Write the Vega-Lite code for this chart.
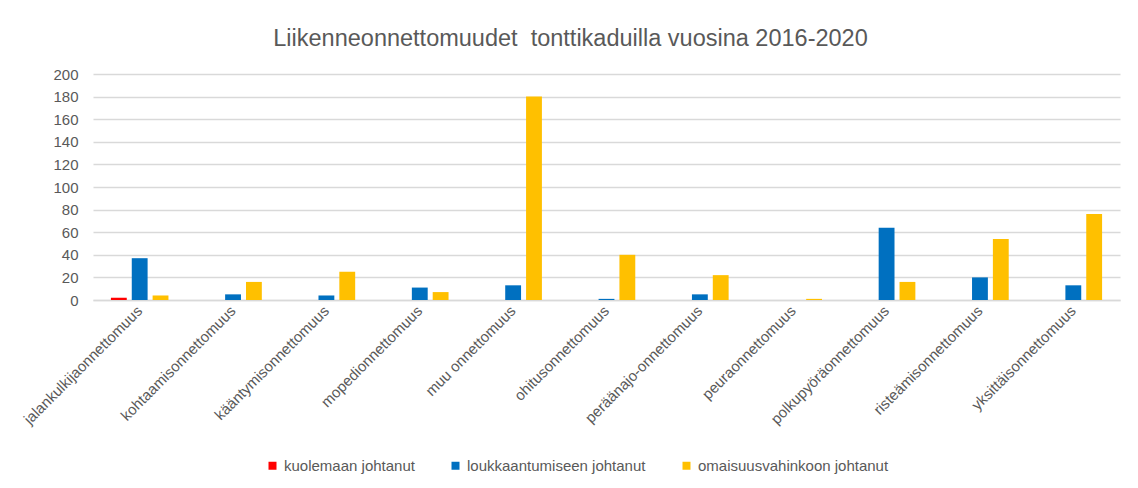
{
  "$schema": "https://vega.github.io/schema/vega-lite/v6.json",
  "width": 1027,
  "height": 226,
  "autosize": {"type": "none"},
  "padding": {"left": 93, "top": 74, "right": 18, "bottom": 188},
  "background": "white",
  "title": {
    "text": "Liikenneonnettomuudet\u00a0 tonttikaduilla vuosina 2016-2020",
    "font": "Liberation Sans",
    "fontSize": 23.5,
    "fontWeight": "normal",
    "color": "#595959",
    "anchor": "middle",
    "dx": -36,
    "offset": 17
  },
  "data": {
    "values": [
      {"luokka": "jalankulkijaonnettomuus", "tyyppi": "kuolemaan johtanut", "arvo": 2},
      {"luokka": "jalankulkijaonnettomuus", "tyyppi": "loukkaantumiseen johtanut", "arvo": 37},
      {"luokka": "jalankulkijaonnettomuus", "tyyppi": "omaisuusvahinkoon johtanut", "arvo": 4},
      {"luokka": "kohtaamisonnettomuus", "tyyppi": "kuolemaan johtanut", "arvo": 0},
      {"luokka": "kohtaamisonnettomuus", "tyyppi": "loukkaantumiseen johtanut", "arvo": 5},
      {"luokka": "kohtaamisonnettomuus", "tyyppi": "omaisuusvahinkoon johtanut", "arvo": 16},
      {"luokka": "kääntymisonnettomuus", "tyyppi": "kuolemaan johtanut", "arvo": 0},
      {"luokka": "kääntymisonnettomuus", "tyyppi": "loukkaantumiseen johtanut", "arvo": 4},
      {"luokka": "kääntymisonnettomuus", "tyyppi": "omaisuusvahinkoon johtanut", "arvo": 25},
      {"luokka": "mopedionnettomuus", "tyyppi": "kuolemaan johtanut", "arvo": 0},
      {"luokka": "mopedionnettomuus", "tyyppi": "loukkaantumiseen johtanut", "arvo": 11},
      {"luokka": "mopedionnettomuus", "tyyppi": "omaisuusvahinkoon johtanut", "arvo": 7},
      {"luokka": "muu onnettomuus", "tyyppi": "kuolemaan johtanut", "arvo": 0},
      {"luokka": "muu onnettomuus", "tyyppi": "loukkaantumiseen johtanut", "arvo": 13},
      {"luokka": "muu onnettomuus", "tyyppi": "omaisuusvahinkoon johtanut", "arvo": 180},
      {"luokka": "ohitusonnettomuus", "tyyppi": "kuolemaan johtanut", "arvo": 0},
      {"luokka": "ohitusonnettomuus", "tyyppi": "loukkaantumiseen johtanut", "arvo": 1},
      {"luokka": "ohitusonnettomuus", "tyyppi": "omaisuusvahinkoon johtanut", "arvo": 40},
      {"luokka": "peräänajo-onnettomuus", "tyyppi": "kuolemaan johtanut", "arvo": 0},
      {"luokka": "peräänajo-onnettomuus", "tyyppi": "loukkaantumiseen johtanut", "arvo": 5},
      {"luokka": "peräänajo-onnettomuus", "tyyppi": "omaisuusvahinkoon johtanut", "arvo": 22},
      {"luokka": "peuraonnettomuus", "tyyppi": "kuolemaan johtanut", "arvo": 0},
      {"luokka": "peuraonnettomuus", "tyyppi": "loukkaantumiseen johtanut", "arvo": 0},
      {"luokka": "peuraonnettomuus", "tyyppi": "omaisuusvahinkoon johtanut", "arvo": 1},
      {"luokka": "polkupyöräonnettomuus", "tyyppi": "kuolemaan johtanut", "arvo": 0},
      {"luokka": "polkupyöräonnettomuus", "tyyppi": "loukkaantumiseen johtanut", "arvo": 64},
      {"luokka": "polkupyöräonnettomuus", "tyyppi": "omaisuusvahinkoon johtanut", "arvo": 16},
      {"luokka": "risteämisonnettomuus", "tyyppi": "kuolemaan johtanut", "arvo": 0},
      {"luokka": "risteämisonnettomuus", "tyyppi": "loukkaantumiseen johtanut", "arvo": 20},
      {"luokka": "risteämisonnettomuus", "tyyppi": "omaisuusvahinkoon johtanut", "arvo": 54},
      {"luokka": "yksittäisonnettomuus", "tyyppi": "kuolemaan johtanut", "arvo": 0},
      {"luokka": "yksittäisonnettomuus", "tyyppi": "loukkaantumiseen johtanut", "arvo": 13},
      {"luokka": "yksittäisonnettomuus", "tyyppi": "omaisuusvahinkoon johtanut", "arvo": 76}
    ]
  },
  "mark": {"type": "bar"},
  "encoding": {
    "x": {
      "field": "luokka",
      "type": "nominal",
      "sort": null,
      "title": null,
      "scale": {"paddingInner": 0.33, "paddingOuter": 0.165},
      "axis": {
        "labelAngle": -45,
        "labelAlign": "right",
        "labelBaseline": "middle",
        "labelFont": "Liberation Sans",
        "labelFontSize": 15,
        "labelColor": "#595959",
        "labelPadding": 8,
        "labelLimit": 300,
        "ticks": false,
        "domainColor": "#d9d9d9",
        "domainWidth": 1.5
      }
    },
    "xOffset": {
      "field": "tyyppi",
      "type": "nominal",
      "sort": null,
      "scale": {"paddingInner": 0.24, "paddingOuter": 0.12}
    },
    "y": {
      "field": "arvo",
      "type": "quantitative",
      "title": null,
      "scale": {"domain": [0, 200]},
      "axis": {
        "values": [0, 20, 40, 60, 80, 100, 120, 140, 160, 180, 200],
        "labelFont": "Liberation Sans",
        "labelFontSize": 15,
        "labelColor": "#595959",
        "labelPadding": 15,
        "ticks": false,
        "domain": false,
        "gridColor": "#d9d9d9",
        "gridWidth": 1.5
      }
    },
    "color": {
      "field": "tyyppi",
      "type": "nominal",
      "sort": null,
      "title": null,
      "scale": {
        "domain": ["kuolemaan johtanut", "loukkaantumiseen johtanut", "omaisuusvahinkoon johtanut"],
        "range": ["#FF0000", "#0070C0", "#FFC000"]
      },
      "legend": {
        "orient": "none",
        "legendX": 172,
        "legendY": 384,
        "direction": "horizontal",
        "symbolType": "square",
        "symbolSize": 64,
        "symbolStrokeWidth": 0,
        "labelOffset": 4,
        "labelFont": "Liberation Sans",
        "labelFontSize": 15,
        "labelLimit": 400,
        "labelColor": "#595959",
        "columnPadding": 33
      }
    }
  },
  "config": {
    "view": {"stroke": null}
  }
}
